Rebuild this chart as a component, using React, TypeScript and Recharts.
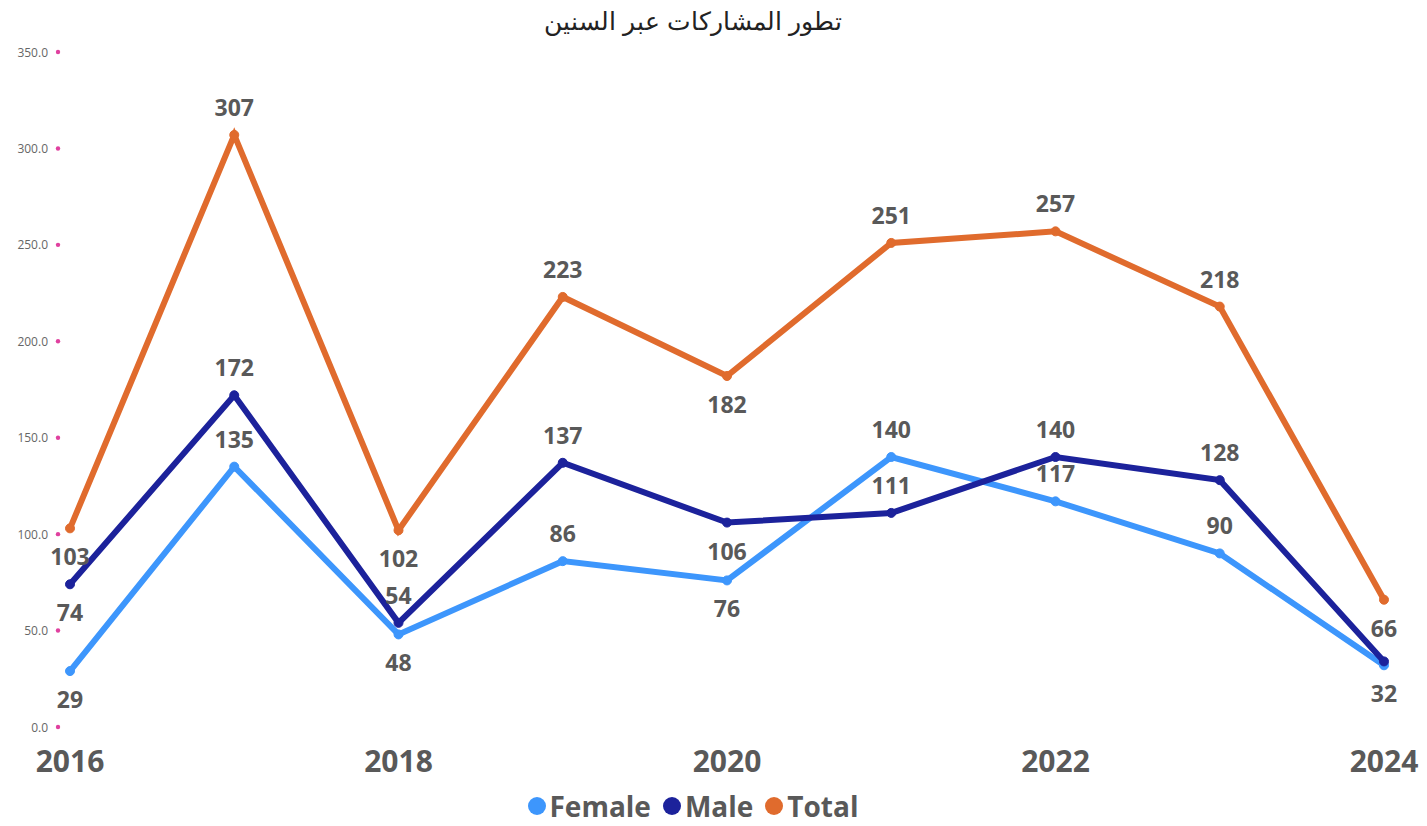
import { LineChart, Line, XAxis, YAxis, LabelList } from "recharts";

const years = ["2016", "2017", "2018", "2019", "2020", "2021", "2022", "2023", "2024"];
const female = [29, 135, 48, 86, 76, 140, 117, 90, 32];
const male = [74, 172, 54, 137, 106, 111, 140, 128, 34];
const total = [103, 307, 102, 223, 182, 251, 257, 218, 66];
const yTicks = [0, 50, 100, 150, 200, 250, 300, 350];

// where each value label sits: 1 = above the point, -1 = below, 0 = hidden
const femaleLabelSide = [-1, 1, -1, 1, -1, 1, 1, 1, -1];
const maleLabelSide = [-1, 1, 1, 1, -1, 1, 1, 1, 0];
const totalLabelSide = [-1, 1, -1, 1, -1, 1, 1, 1, -1];

const data = years.map((y, i) => ({
  year: y,
  Female: female[i],
  Male: male[i],
  Total: total[i],
}));

const series = [
  { key: "Female", color: "#3d96fc", sides: femaleLabelSide },
  { key: "Male", color: "#1c229b", sides: maleLabelSide },
  { key: "Total", color: "#e06b2d", sides: totalLabelSide },
];

const font = "'Open Sans', 'DejaVu Sans', sans-serif";

function makeLabel(sides: number[]) {
  return (props: any) => {
    const { x, y, value, index } = props;
    const side = sides[index];
    if (!side) return null;
    return (
      <text
        x={x}
        y={y - side * 28}
        textAnchor="middle"
        dominantBaseline="central"
        fontFamily={font}
        fontWeight={700}
        fontSize={23}
        fill="#595959"
      >
        {value}
      </text>
    );
  };
}

function YTick(props: any) {
  const { x, y, payload } = props;
  return (
    <g>
      <text
        x={x - 16}
        y={y}
        textAnchor="end"
        dominantBaseline="central"
        fontFamily={font}
        fontSize={12}
        fill="#666"
      >
        {payload.value.toFixed(1)}
      </text>
      <circle cx={x - 6} cy={y} r={2.2} fill="#e0409f" />
    </g>
  );
}

function XTick(props: any) {
  const { x, y, payload } = props;
  return (
    <text
      x={x}
      y={y + 25}
      textAnchor="middle"
      dominantBaseline="central"
      fontFamily={font}
      fontWeight={700}
      fontSize={30}
      fill="#595959"
    >
      {payload.value}
    </text>
  );
}

export default function App() {
  return (
    <div style={{ position: "relative", width: 1411, height: 810 }}>
      <div
        style={{
          position: "absolute",
          top: 0,
          left: 0,
          width: 1370,
          textAlign: "center",
          fontFamily: "'Liberation Sans', Arial, sans-serif",
          fontSize: 25,
          color: "#222",
          lineHeight: "26px",
          direction: "rtl",
        }}
      >
        تطور المشاركات عبر السنين
      </div>
      <LineChart
        width={1411}
        height={810}
        data={data}
        margin={{ top: 44, right: 35, left: 0, bottom: 31 }}
        style={{ overflow: "visible" }}
      >
        <XAxis
          dataKey="year"
          interval={1}
          axisLine={false}
          tickLine={false}
          height={60}
          tick={<XTick />}
        />
        <YAxis
          domain={[0, 350]}
          ticks={yTicks}
          width={62}
          axisLine={false}
          tickLine={false}
          tick={<YTick />}
          tickMargin={0}
        />
        {series.map((s) => (
          <Line
            key={s.key}
            dataKey={s.key}
            stroke={s.color}
            strokeWidth={6}
            dot={{ r: 4.5, fill: s.color, stroke: s.color, strokeWidth: 1 }}
            activeDot={false}
            isAnimationActive={false}
          >
            <LabelList dataKey={s.key} content={makeLabel(s.sides)} />
          </Line>
        ))}
      </LineChart>
      <div
        style={{
          position: "absolute",
          top: 780,
          left: 0,
          width: 1370,
          display: "flex",
          justifyContent: "center",
          gap: 12,
          fontFamily: font,
          fontWeight: 700,
          fontSize: 28,
          lineHeight: "36px",
          color: "#595959",
        }}
      >
        {series.map((s) => (
          <span key={s.key} style={{ display: "flex", alignItems: "center", gap: 4 }}>
            <span
              style={{
                width: 18,
                height: 18,
                borderRadius: "50%",
                background: s.color,
                display: "inline-block",
              }}
            />
            {s.key}
          </span>
        ))}
      </div>
    </div>
  );
}
